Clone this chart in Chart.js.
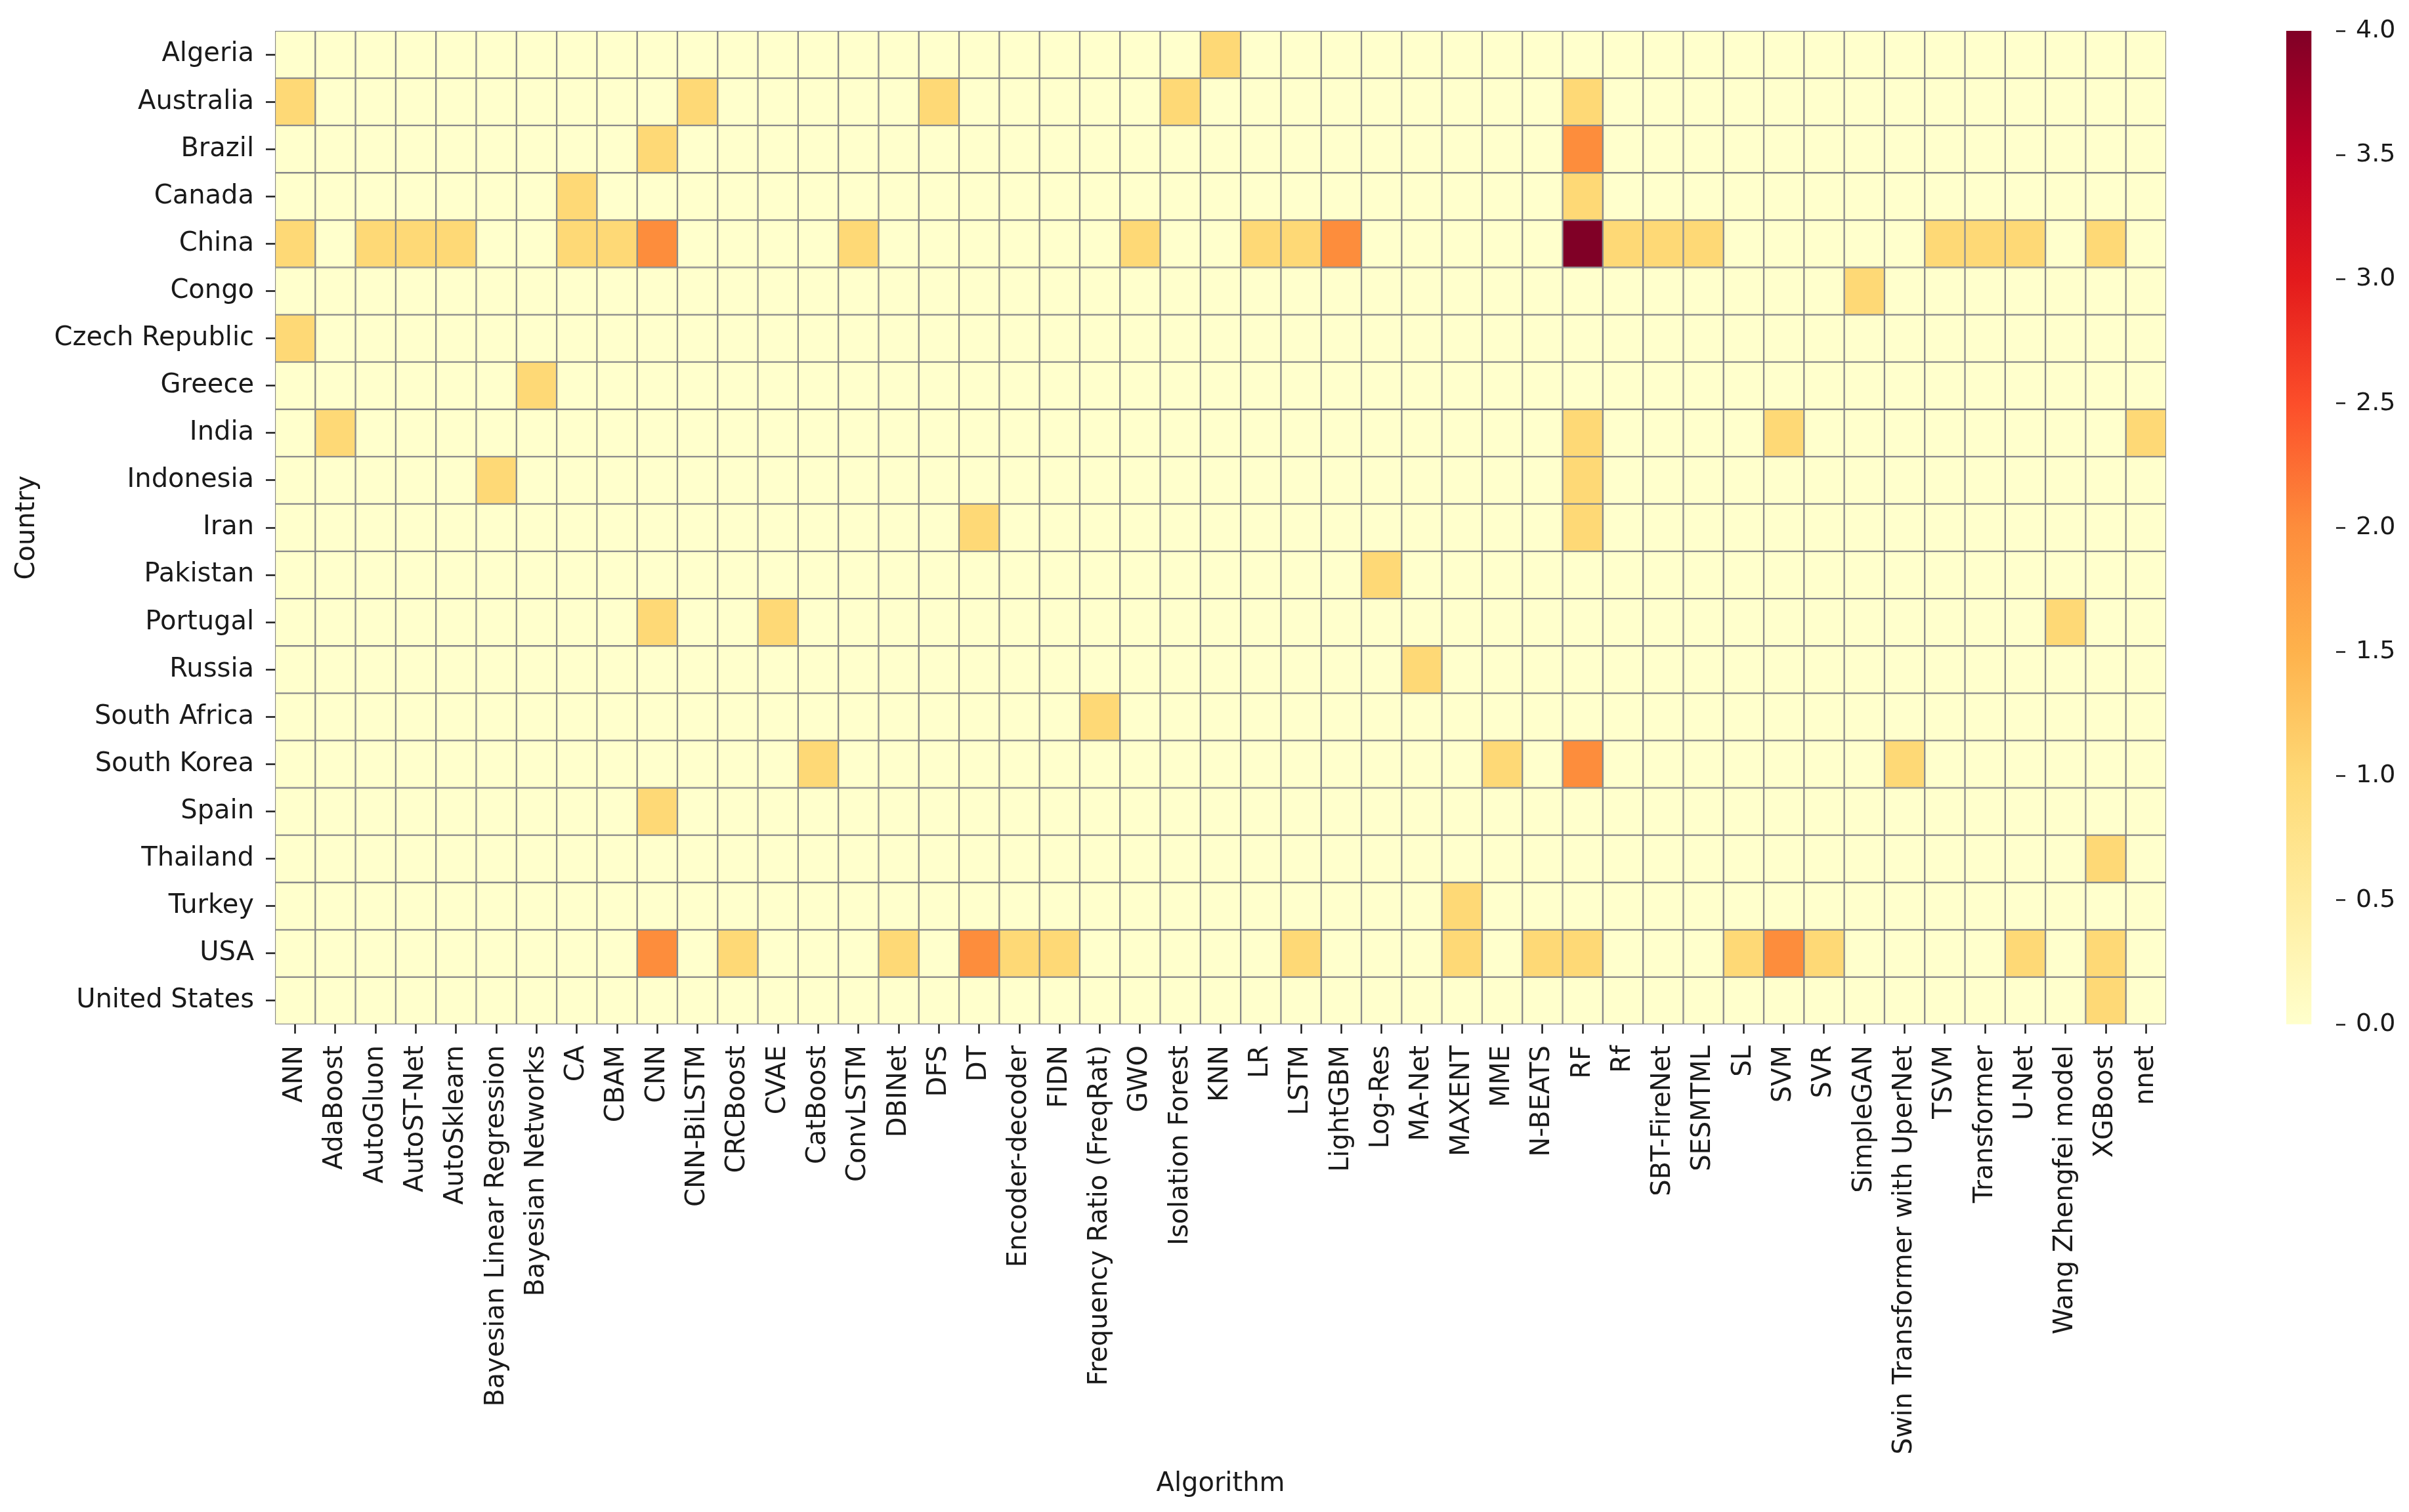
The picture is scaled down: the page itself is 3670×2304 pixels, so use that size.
<!DOCTYPE html>
<html>
<head>
<meta charset="utf-8">
<script src="https://cdn.jsdelivr.net/npm/chart.js@4/dist/chart.umd.min.js"></script>
<style>
  html, body { margin: 0; padding: 0; background: #ffffff; }
  #wrap { position: relative; width: 3670px; height: 2304px; background: #ffffff; }
  #main { position: absolute; left: 0; top: 0; width: 3670px; height: 2304px; }
  #cbar { position: absolute; left: 3400px; top: 0; width: 270px; height: 2304px; }
</style>
</head>
<body>
<div id="wrap">
  <div id="main"><canvas id="heat"></canvas></div>
  <div id="cbar"><canvas id="bar"></canvas></div>
</div>
<script>
// ---------------- DATA ----------------
const countries = ["Algeria", "Australia", "Brazil", "Canada", "China", "Congo", "Czech Republic",
  "Greece", "India", "Indonesia", "Iran", "Pakistan", "Portugal", "Russia", "South Africa",
  "South Korea", "Spain", "Thailand", "Turkey", "USA", "United States"];

const algorithms = ["ANN", "AdaBoost", "AutoGluon", "AutoST-Net", "AutoSklearn",
  "Bayesian Linear Regression", "Bayesian Networks", "CA", "CBAM", "CNN",
  "CNN-BiLSTM", "CRCBoost", "CVAE", "CatBoost", "ConvLSTM",
  "DBINet", "DFS", "DT", "Encoder-decoder", "FIDN",
  "Frequency Ratio (FreqRat)", "GWO", "Isolation Forest", "KNN", "LR",
  "LSTM", "LightGBM", "Log-Res", "MA-Net", "MAXENT",
  "MME", "N-BEATS", "RF", "Rf", "SBT-FireNet",
  "SESMTML", "SL", "SVM", "SVR", "SimpleGAN",
  "Swin Transformer with UperNet", "TSVM", "Transformer", "U-Net", "Wang Zhengfei model",
  "XGBoost", "nnet"];

// one row per country, 47 counts in algorithm order (groups of 10)
const rowAlgeria      = [0,0,0,0,0,0,0,0,0,0, 0,0,0,0,0,0,0,0,0,0, 0,0,0,1,0,0,0,0,0,0, 0,0,0,0,0,0,0,0,0,0, 0,0,0,0,0,0,0];
const rowAustralia    = [1,0,0,0,0,0,0,0,0,0, 1,0,0,0,0,0,1,0,0,0, 0,0,1,0,0,0,0,0,0,0, 0,0,1,0,0,0,0,0,0,0, 0,0,0,0,0,0,0];
const rowBrazil       = [0,0,0,0,0,0,0,0,0,1, 0,0,0,0,0,0,0,0,0,0, 0,0,0,0,0,0,0,0,0,0, 0,0,2,0,0,0,0,0,0,0, 0,0,0,0,0,0,0];
const rowCanada       = [0,0,0,0,0,0,0,1,0,0, 0,0,0,0,0,0,0,0,0,0, 0,0,0,0,0,0,0,0,0,0, 0,0,1,0,0,0,0,0,0,0, 0,0,0,0,0,0,0];
const rowChina        = [1,0,1,1,1,0,0,1,1,2, 0,0,0,0,1,0,0,0,0,0, 0,1,0,0,1,1,2,0,0,0, 0,0,4,1,1,1,0,0,0,0, 0,1,1,1,0,1,0];
const rowCongo        = [0,0,0,0,0,0,0,0,0,0, 0,0,0,0,0,0,0,0,0,0, 0,0,0,0,0,0,0,0,0,0, 0,0,0,0,0,0,0,0,0,1, 0,0,0,0,0,0,0];
const rowCzech        = [1,0,0,0,0,0,0,0,0,0, 0,0,0,0,0,0,0,0,0,0, 0,0,0,0,0,0,0,0,0,0, 0,0,0,0,0,0,0,0,0,0, 0,0,0,0,0,0,0];
const rowGreece       = [0,0,0,0,0,0,1,0,0,0, 0,0,0,0,0,0,0,0,0,0, 0,0,0,0,0,0,0,0,0,0, 0,0,0,0,0,0,0,0,0,0, 0,0,0,0,0,0,0];
const rowIndia        = [0,1,0,0,0,0,0,0,0,0, 0,0,0,0,0,0,0,0,0,0, 0,0,0,0,0,0,0,0,0,0, 0,0,1,0,0,0,0,1,0,0, 0,0,0,0,0,0,1];
const rowIndonesia    = [0,0,0,0,0,1,0,0,0,0, 0,0,0,0,0,0,0,0,0,0, 0,0,0,0,0,0,0,0,0,0, 0,0,1,0,0,0,0,0,0,0, 0,0,0,0,0,0,0];
const rowIran         = [0,0,0,0,0,0,0,0,0,0, 0,0,0,0,0,0,0,1,0,0, 0,0,0,0,0,0,0,0,0,0, 0,0,1,0,0,0,0,0,0,0, 0,0,0,0,0,0,0];
const rowPakistan     = [0,0,0,0,0,0,0,0,0,0, 0,0,0,0,0,0,0,0,0,0, 0,0,0,0,0,0,0,1,0,0, 0,0,0,0,0,0,0,0,0,0, 0,0,0,0,0,0,0];
const rowPortugal     = [0,0,0,0,0,0,0,0,0,1, 0,0,1,0,0,0,0,0,0,0, 0,0,0,0,0,0,0,0,0,0, 0,0,0,0,0,0,0,0,0,0, 0,0,0,0,1,0,0];
const rowRussia       = [0,0,0,0,0,0,0,0,0,0, 0,0,0,0,0,0,0,0,0,0, 0,0,0,0,0,0,0,0,1,0, 0,0,0,0,0,0,0,0,0,0, 0,0,0,0,0,0,0];
const rowSouthAfrica  = [0,0,0,0,0,0,0,0,0,0, 0,0,0,0,0,0,0,0,0,0, 1,0,0,0,0,0,0,0,0,0, 0,0,0,0,0,0,0,0,0,0, 0,0,0,0,0,0,0];
const rowSouthKorea   = [0,0,0,0,0,0,0,0,0,0, 0,0,0,1,0,0,0,0,0,0, 0,0,0,0,0,0,0,0,0,0, 1,0,2,0,0,0,0,0,0,0, 1,0,0,0,0,0,0];
const rowSpain        = [0,0,0,0,0,0,0,0,0,1, 0,0,0,0,0,0,0,0,0,0, 0,0,0,0,0,0,0,0,0,0, 0,0,0,0,0,0,0,0,0,0, 0,0,0,0,0,0,0];
const rowThailand     = [0,0,0,0,0,0,0,0,0,0, 0,0,0,0,0,0,0,0,0,0, 0,0,0,0,0,0,0,0,0,0, 0,0,0,0,0,0,0,0,0,0, 0,0,0,0,0,1,0];
const rowTurkey       = [0,0,0,0,0,0,0,0,0,0, 0,0,0,0,0,0,0,0,0,0, 0,0,0,0,0,0,0,0,0,1, 0,0,0,0,0,0,0,0,0,0, 0,0,0,0,0,0,0];
const rowUSA          = [0,0,0,0,0,0,0,0,0,2, 0,1,0,0,0,1,0,2,1,1, 0,0,0,0,0,1,0,0,0,1, 0,1,1,0,0,0,1,2,1,0, 0,0,0,1,0,1,0];
const rowUnitedStates = [0,0,0,0,0,0,0,0,0,0, 0,0,0,0,0,0,0,0,0,0, 0,0,0,0,0,0,0,0,0,0, 0,0,0,0,0,0,0,0,0,0, 0,0,0,0,0,1,0];

const matrix = [rowAlgeria, rowAustralia, rowBrazil, rowCanada, rowChina, rowCongo, rowCzech,
  rowGreece, rowIndia, rowIndonesia, rowIran, rowPakistan, rowPortugal, rowRussia, rowSouthAfrica,
  rowSouthKorea, rowSpain, rowThailand, rowTurkey, rowUSA, rowUnitedStates];

const colorMin = 0;
const colorMax = 4;
const colorbarTicks = [0, 0.5, 1, 1.5, 2, 2.5, 3, 3.5, 4];

// ---------------- STYLE ----------------
const FONT = "'DejaVu Sans', sans-serif";
const TXT = '#1a1a1a';
const GRIDC = '#888888';
// YlOrRd (ColorBrewer 9-class) stops
const ylorrd = ['#ffffcc', '#ffeda0', '#fed976', '#feb24c', '#fd8d3c', '#fc4e2a', '#e31a1c', '#bd0026', '#800026'];

function hexToRgb(h) {
  return [parseInt(h.slice(1, 3), 16), parseInt(h.slice(3, 5), 16), parseInt(h.slice(5, 7), 16)];
}
function cmap(v) {
  let t = (v - colorMin) / (colorMax - colorMin);
  t = Math.max(0, Math.min(1, t));
  const pos = t * (ylorrd.length - 1);
  const i = Math.min(Math.floor(pos), ylorrd.length - 2);
  const f = pos - i;
  const a = hexToRgb(ylorrd[i]), b = hexToRgb(ylorrd[i + 1]);
  const c = a.map((x, k) => Math.round(x + (b[k] - x) * f));
  return `rgb(${c[0]},${c[1]},${c[2]})`;
}

Chart.defaults.font.family = FONT;
Chart.defaults.color = TXT;

// ---------------- HEATMAP ----------------
const datasets = countries.map((name, r) => ({
  label: name,
  data: algorithms.map(() => 1),
  backgroundColor: matrix[r].map(v => cmap(v)),
  borderColor: GRIDC,
  borderWidth: 1.5,
  borderSkipped: false,
  barPercentage: 1.0,
  categoryPercentage: 1.0,
  stack: 'rows'
}));

new Chart(document.getElementById('heat'), {
  type: 'bar',
  data: { labels: algorithms, datasets },
  options: {
    responsive: true,
    maintainAspectRatio: false,
    animation: false,
    devicePixelRatio: 1,
    layout: { padding: { top: 47, right: 370, left: 0, bottom: 0 } },
    plugins: { legend: { display: false }, tooltip: { enabled: false } },
    scales: {
      x: {
        type: 'category',
        stacked: true,
        offset: true,
        grid: { display: true, drawOnChartArea: false, drawTicks: true, offset: false,
                tickLength: 14, tickWidth: 2.5, tickColor: TXT },
        border: { display: false },
        ticks: { autoSkip: false, maxRotation: 90, minRotation: 90, padding: 18,
                 font: { size: 40, family: FONT }, color: TXT },
        title: { display: true, text: 'Algorithm', font: { size: 40, family: FONT }, color: TXT,
                 padding: { top: 0, bottom: 18 } },
        afterFit: (s) => { s.height = 743; }
      },
      y: {
        type: 'linear',
        stacked: true,
        reverse: true,
        min: 0,
        max: countries.length,
        afterBuildTicks: (s) => { s.ticks = countries.map((_, i) => ({ value: i + 0.5 })); },
        grid: { display: true, drawOnChartArea: false, drawTicks: true,
                tickLength: 14, tickWidth: 2.5, tickColor: TXT },
        border: { display: false },
        ticks: { autoSkip: false, padding: 18, font: { size: 40, family: FONT }, color: TXT,
                 callback: (v, i) => countries[i] },
        title: { display: true, text: 'Country', font: { size: 40, family: FONT }, color: TXT,
                 padding: { top: 18, bottom: 0 } },
        afterFit: (s) => { s.width = 419; }
      }
    }
  }
});

// ---------------- COLORBAR ----------------
new Chart(document.getElementById('bar'), {
  type: 'bar',
  data: {
    labels: ['scale'],
    datasets: [{
      data: [[colorMin, colorMax]],
      borderWidth: 0,
      barPercentage: 1.0,
      categoryPercentage: 1.0,
      backgroundColor: (ctx) => {
        const chart = ctx.chart;
        const ys = chart.scales && chart.scales.y;
        if (!chart.chartArea || !ys) return ylorrd[0];
        const g = chart.ctx.createLinearGradient(0, ys.getPixelForValue(colorMin), 0, ys.getPixelForValue(colorMax));
        ylorrd.forEach((c, i) => g.addColorStop(i / (ylorrd.length - 1), c));
        return g;
      }
    }]
  },
  options: {
    responsive: true,
    maintainAspectRatio: false,
    animation: false,
    devicePixelRatio: 1,
    layout: { padding: { top: 47, bottom: 743, left: 83, right: 0 } },
    plugins: { legend: { display: false }, tooltip: { enabled: false } },
    scales: {
      x: { display: false, offset: false },
      y: {
        position: 'right',
        min: colorMin,
        max: colorMax,
        afterBuildTicks: (s) => { s.ticks = colorbarTicks.map(v => ({ value: v })); },
        grid: { display: true, drawOnChartArea: false, drawTicks: true,
                tickLength: 14, tickWidth: 2.5, tickColor: TXT },
        border: { display: false },
        ticks: { padding: 16, font: { size: 38, family: FONT }, color: TXT,
                 callback: (v) => Number(v).toFixed(1) },
        afterFit: (s) => { s.width = 111; }
      }
    }
  }
});
</script>
</body>
</html>
